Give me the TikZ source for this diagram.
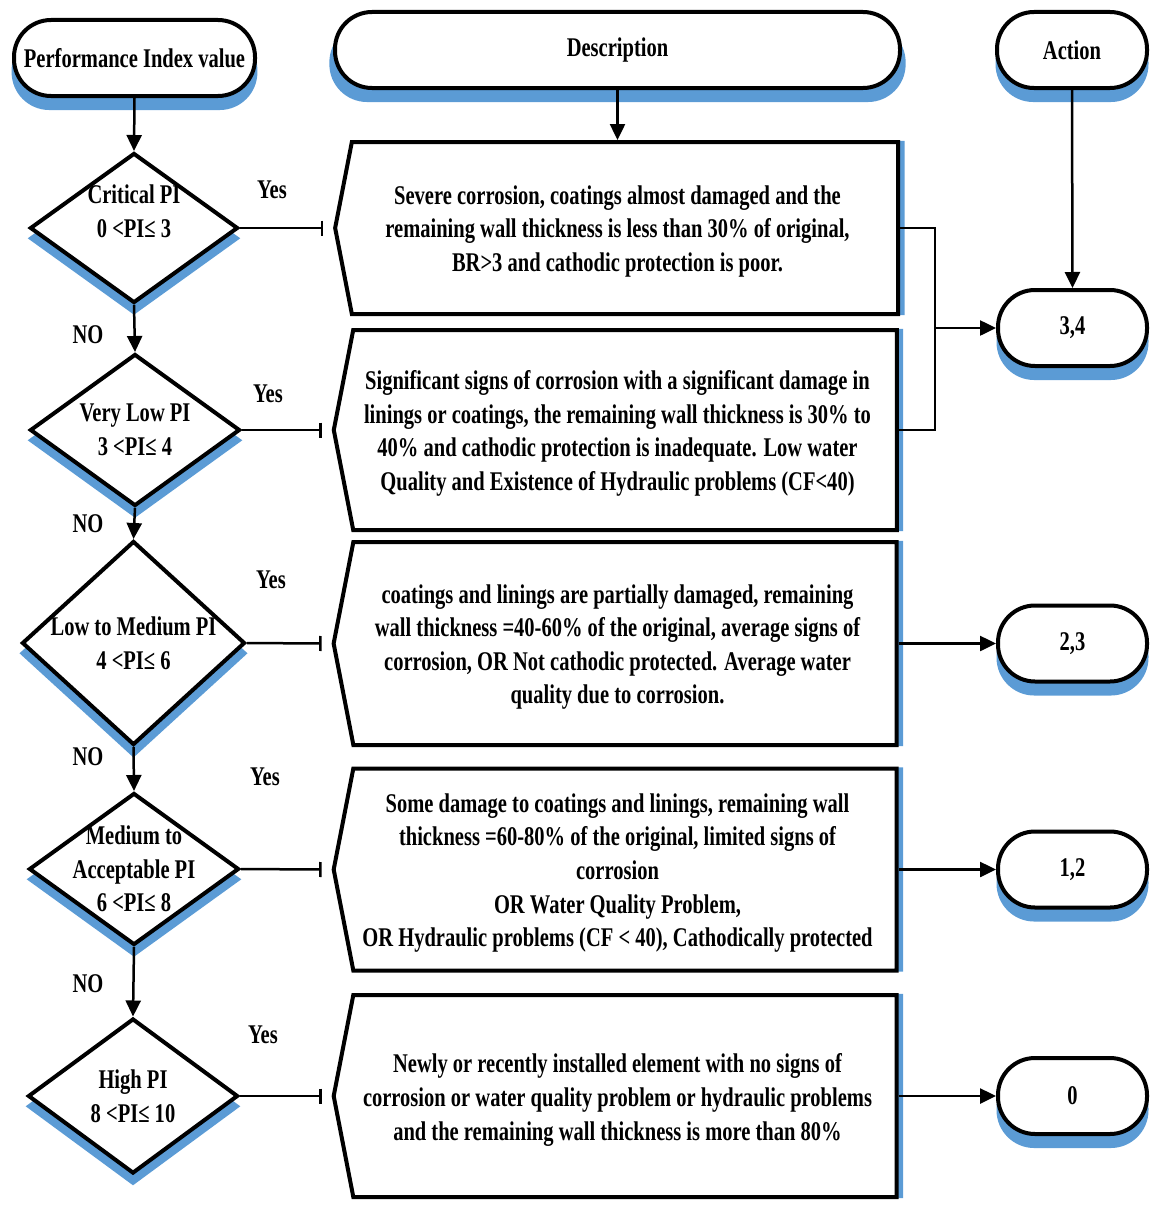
\documentclass[tikz,border=0pt]{standalone}
\usepackage{fontspec}
\setmainfont{Liberation Serif}[FakeStretch=0.76]
\usetikzlibrary{shapes.geometric,shapes.symbols,shadows,arrows.meta}
\definecolor{shadowblue}{RGB}{91,155,213}

\begin{document}
\begin{tikzpicture}[x=1pt,y=-1pt,
  every node/.style={font=\bfseries\fontsize{27}{33.6}\selectfont},
  term/.style={draw, line width=4pt, fill=white, rounded corners=37pt,
    minimum height=76pt, inner sep=0pt,
    general shadow={fill=shadowblue, shadow yshift=-13pt, shadow scale=1.02}},
  dia/.style={draw, diamond, line width=4pt, fill=white, inner sep=0pt,
    general shadow={fill=shadowblue, shadow yshift=-10pt, shadow scale=1.03}},
  desc/.style={draw, signal, signal to=west, signal pointer angle=158,
    line width=4pt, fill=white, minimum width=563pt, inner sep=0pt,
    general shadow={fill=shadowblue, shadow xshift=3pt, shadow scale=1.012}},
  lbl/.style={inner sep=0pt},
  txt/.style={inner sep=0pt, align=center},
  conn/.style={line width=2.5pt},
  arr/.style={conn, -{Triangle[length=16pt,width=15pt]}},
  bar/.style={conn, -{Bar[width=15pt,line width=2.5pt]}}]

\useasboundingbox (0,0) rectangle (1152,1207);

% column headers
\node[term, minimum width=241pt] (pi) at (134.5,58) {Performance Index value};
\node[term, minimum width=565pt] (dh) at (617.5,50) {Description};
\node[term, minimum width=150pt] (ah) at (1072,50) {Action};

% decision diamonds
\node[dia, minimum width=208pt, minimum height=150pt] (d1) at (134,228) {};
\node[dia, minimum width=210pt, minimum height=152pt] (d2) at (135,430) {};
\node[dia, minimum width=223pt, minimum height=204pt] (d3) at (133.5,643) {};
\node[dia, minimum width=210pt, minimum height=152pt] (d4) at (134,869) {};
\node[dia, minimum width=210pt, minimum height=155pt] (d5) at (133,1096) {};

\node[txt] at ([yshift=17pt]d1.center) {Critical PI\\0 <PI≤ 3};
\node[txt] at (d2) {Very Low PI\\3 <PI≤ 4};
\node[txt] at (d3) {Low to Medium PI\\4 <PI≤ 6};
\node[txt] at (d4) {Medium to\\Acceptable PI\\6 <PI≤ 8};
\node[txt] at (d5) {High PI\\8 <PI≤ 10};

% description boxes
\node[desc, minimum height=172pt] (b1) at (625,228) {};
\node[desc, minimum height=200pt] (b2) at (625,430) {};
\node[desc, minimum height=203pt] (b3) at (625,643.5) {};
\node[desc, minimum height=202pt] (b4) at (625,869.5) {};
\node[desc, minimum height=202pt] (b5) at (625,1096) {};

\node[txt] at (617.5,231.5) {Severe corrosion, coatings almost damaged and the\\remaining wall thickness is less than 30\% of original,\\BR>3 and cathodic protection is poor.};
\node[txt] at (617.5,433.5) {Significant signs of corrosion with a significant damage in\\linings or coatings, the remaining wall thickness is 30\% to\\40\% and cathodic protection is inadequate. Low water\\Quality and Existence of Hydraulic problems (CF<40)};
\node[txt] at (617.5,647) {coatings and linings are partially damaged, remaining\\wall thickness =40-60\% of the original, average signs of\\corrosion, OR Not cathodic protected. Average water\\quality due to corrosion.};
\node[txt] at (617.5,873) {Some damage to coatings and linings, remaining wall\\thickness =60-80\% of the original, limited signs of\\corrosion\\OR Water Quality Problem,\\OR Hydraulic problems (CF < 40), Cathodically protected};
\node[txt] at (617.5,1100) {Newly or recently installed element with no signs of\\corrosion or water quality problem or hydraulic problems\\and the remaining wall thickness is more than 80\%};

% action results
\node[term, minimum width=149pt] (a1) at (1072.5,328) {3,4};
\node[term, minimum width=149pt] (a2) at (1072.5,643.5) {2,3};
\node[term, minimum width=149pt] (a3) at (1072.5,869.5) {1,2};
\node[term, minimum width=149pt] (a4) at (1072.5,1096) {0};

% vertical flow
\draw[arr] (pi.south) -- (d1.north);
\draw[arr] (d1.south) -- (d2.north);
\draw[arr] (d2.south) -- (d3.north);
\draw[arr] (d3.south) -- (d4.north);
\draw[arr] (d4.south) -- (d5.north);
\draw[arr] (dh.south) -- (dh.south |- b1.north);
\draw[arr] (ah.south) -- (a1.north);

% yes branches
\draw[bar] (d1.east) -- ([xshift=-10pt]b1.west);
\draw[bar] (d2.east) -- ([xshift=-10pt]b2.west);
\draw[bar] (d3.east) -- ([xshift=-10pt]b3.west);
\draw[bar] (d4.east) -- ([xshift=-10pt]b4.west);
\draw[bar] (d5.east) -- ([xshift=-10pt]b5.west);

% descriptions to actions
\coordinate (j) at (935,328);
\draw[conn] (b1.east) -| (j) |- (b2.east);
\draw[arr] (j) -- (a1.west);
\draw[arr] (b3.east) -- (a2.west);
\draw[arr] (b4.east) -- (a3.west);
\draw[arr] (b5.east) -- (a4.west);

% branch labels
\node[lbl] at (272,190) {Yes};
\node[lbl] at (268,394) {Yes};
\node[lbl] at (271,580) {Yes};
\node[lbl] at (265,777) {Yes};
\node[lbl] at (263,1035) {Yes};
\node[lbl] at (88,335) {NO};
\node[lbl] at (88,524) {NO};
\node[lbl] at (88,757) {NO};
\node[lbl] at (88,984) {NO};
\end{tikzpicture}
\end{document}
